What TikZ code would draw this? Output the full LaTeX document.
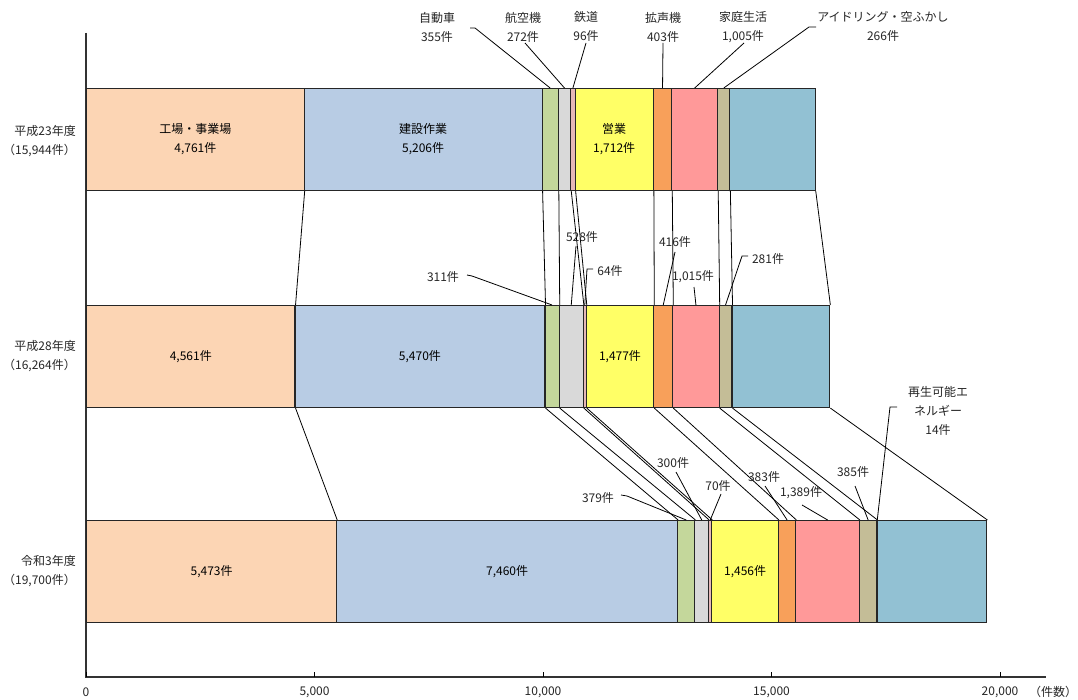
\documentclass[tikz,border=0pt]{standalone}
\usepackage{fontspec}
\setmainfont{Noto Sans CJK JP}
\definecolor{cpeach}{HTML}{FCD5B4}
\definecolor{cblue}{HTML}{B8CCE4}
\definecolor{cgreen}{HTML}{C4D79B}
\definecolor{cgray}{HTML}{D9D9D9}
\definecolor{crose}{HTML}{E6B8B7}
\definecolor{cyellow}{HTML}{FFFF66}
\definecolor{corange}{HTML}{F8A05A}
\definecolor{cpink}{HTML}{FF9999}
\definecolor{ckhaki}{HTML}{C4BD97}
\definecolor{cteal}{HTML}{92C1D3}
\definecolor{crenew}{HTML}{7FB89C}
\definecolor{cline}{HTML}{262626}
\tikzset{
  segbox/.style={draw=cline, line width=1.1pt, inner sep=0pt, minimum height=102pt, align=center, font=\fontsize{12}{19}\selectfont},
  conn/.style={draw=black, line width=0.8pt},
  lbl/.style={inner sep=0pt, align=center, font=\fontsize{12}{19}\selectfont, text=black!85},
  axisline/.style={draw=black!80, line width=1.5pt},
  ticklbl/.style={inner sep=0pt, font=\fontsize{12}{14}\selectfont, text=black!85},
}
\newcommand\mkseg[6]{%
  \edef\segw{\fpeval{(#3-#2)*0.0457}}%
  \edef\segx{\fpeval{86+#2*0.0457}}%
  \node[segbox, fill=#5, minimum width=\segw pt, anchor=north west] (#1) at (\segx,#4) {#6};}
\begin{document}
\begin{tikzpicture}[x=1pt,y=-1pt]
\useasboundingbox[fill=white] (0,0) rectangle (1078,700);
% axes
\coordinate (ytop) at (86,33);
\coordinate (orig) at (86,677);
\coordinate (xend) at (1046,677);
\draw[axisline] (ytop) -- (orig) -- (xend);
\foreach \k/\t in {0/0,1/{5,000},2/{10,000},3/{15,000},4/{20,000}}{
  \pgfmathsetmacro\tx{86+\k*228.5}
  \coordinate (tk\k) at (\tx,677);
  \draw[line width=1pt] (tk\k) -- ++(0,-5);
  \node[ticklbl] (tl\k) at (\tx,692) {\t};
}
\node[ticklbl] (unit) at (1053,692) {（件数）};
% year labels
\node[lbl, align=right, anchor=east] (y1) at (76,141) {平成23年度\\（15,944件）};
\node[lbl, align=right, anchor=east] (y2) at (76,356) {平成28年度\\（16,264件）};
\node[lbl, align=right, anchor=east] (y3) at (76,571) {令和3年度\\（19,700件）};
% bar 1
\mkseg{a1}{0}{4761}{88}{cpeach}{工場・事業場\\4,761件}
\mkseg{a2}{4761}{9967}{88}{cblue}{建設作業\\5,206件}
\mkseg{a3}{9967}{10322}{88}{cgreen}{}
\mkseg{a4}{10322}{10594}{88}{cgray}{}
\mkseg{a5}{10594}{10690}{88}{crose}{}
\mkseg{a6}{10690}{12402}{88}{cyellow}{営業\\1,712件}
\mkseg{a7}{12402}{12805}{88}{corange}{}
\mkseg{a8}{12805}{13810}{88}{cpink}{}
\mkseg{a9}{13810}{14076}{88}{ckhaki}{}
\mkseg{a10}{14076}{15944}{88}{cteal}{}
% bar 2
\mkseg{b1}{0}{4561}{305}{cpeach}{4,561件}
\mkseg{b2}{4561}{10031}{305}{cblue}{5,470件}
\mkseg{b3}{10031}{10342}{305}{cgreen}{}
\mkseg{b4}{10342}{10870}{305}{cgray}{}
\mkseg{b5}{10870}{10934}{305}{crose}{}
\mkseg{b6}{10934}{12411}{305}{cyellow}{1,477件}
\mkseg{b7}{12411}{12827}{305}{corange}{}
\mkseg{b8}{12827}{13842}{305}{cpink}{}
\mkseg{b9}{13842}{14123}{305}{ckhaki}{}
\mkseg{b10}{14123}{16264}{305}{cteal}{}
% bar 3
\mkseg{c1}{0}{5473}{520}{cpeach}{5,473件}
\mkseg{c2}{5473}{12933}{520}{cblue}{7,460件}
\mkseg{c3}{12933}{13312}{520}{cgreen}{}
\mkseg{c4}{13312}{13612}{520}{cgray}{}
\mkseg{c5}{13612}{13682}{520}{crose}{}
\mkseg{c6}{13682}{15138}{520}{cyellow}{1,456件}
\mkseg{c7}{15138}{15521}{520}{corange}{}
\mkseg{c8}{15521}{16910}{520}{cpink}{}
\mkseg{c9}{16910}{17295}{520}{ckhaki}{}
\mkseg{c10}{17295}{17309}{520}{crenew}{}
\mkseg{c11}{17309}{19700}{520}{cteal}{}
% connecting lines between bars
\foreach \i in {1,...,10}{\draw[conn] (a\i.south east) -- (b\i.north east);}
\foreach \i in {1,...,9}{\draw[conn] (b\i.south east) -- (c\i.north east);}
\draw[conn] (b10.south east) -- (c11.north east);
% top callouts (bar 1)
\node[lbl] (t3) at (437,27.5) {自動車\\355件};
\coordinate (t3a) at (470,28); \coordinate (t3b) at (475,28);
\draw[conn] (t3a) -- (t3b) -- (a3.north);
\node[lbl] (t4) at (523,27.5) {航空機\\272件};
\coordinate (t4a) at (525,43);
\draw[conn] (t4a) -- (a4.north);
\node[lbl] (t5) at (586,26) {鉄道\\96件};
\coordinate (t5a) at (586,43);
\draw[conn] (t5a) -- (a5.north);
\node[lbl] (t7) at (663,27) {拡声機\\403件};
\coordinate (t7a) at (663,43);
\draw[conn] (t7a) -- (a7.north);
\node[lbl] (t8) at (743,27.5) {家庭生活\\1,005件};
\coordinate (t8a) at (744,43);
\draw[conn] (t8a) -- (a8.north);
\node[lbl] (t9) at (883,26.5) {アイドリング・空ふかし\\266件};
\coordinate (t9a) at (816,27); \coordinate (t9b) at (809,27);
\draw[conn] (t9a) -- (t9b) -- (a9.north);
% bar 2 callouts
\node[lbl] (u3) at (443,277) {311件};
\coordinate (u3a) at (467,275); \coordinate (u3b) at (472,276);
\draw[conn] (u3a) -- (u3b) -- (b3.north);
\node[lbl] (u4) at (582,237) {528件};
\coordinate (u4a) at (576,246);
\draw[conn] (u4a) -- (b4.north);
\node[lbl] (u5) at (610,271) {64件};
\coordinate (u5a) at (593,269); \coordinate (u5b) at (587,269);
\draw[conn] (u5a) -- (u5b) -- (b5.north);
\node[lbl] (u7) at (675,242) {416件};
\coordinate (u7a) at (675,252);
\draw[conn] (u7a) -- (b7.north);
\node[lbl] (u8) at (693,277) {1,015件};
\coordinate (u8a) at (694,287);
\draw[conn] (u8a) -- (b8.north);
\node[lbl] (u9) at (768,259) {281件};
\coordinate (u9a) at (748,256); \coordinate (u9b) at (742,256);
\draw[conn] (u9a) -- (u9b) -- (b9.north);
% bar 3 callouts
\node[lbl] (v3) at (598,498) {379件};
\coordinate (v3a) at (621,495); \coordinate (v3b) at (627,496);
\draw[conn] (v3a) -- (v3b) -- (c3.north);
\node[lbl] (v4) at (673,463) {300件};
\coordinate (v4a) at (676,472);
\draw[conn] (v4a) -- (c4.north);
\node[lbl] (v5) at (718,486) {70件};
\coordinate (v5a) at (721,494);
\draw[conn] (v5a) -- (c5.north);
\node[lbl] (v7) at (764,477) {383件};
\coordinate (v7a) at (765,486);
\draw[conn] (v7a) -- (c7.north);
\node[lbl] (v8) at (801,493) {1,389件};
\coordinate (v8a) at (802,505);
\draw[conn] (v8a) -- (c8.north);
\node[lbl] (v9) at (853,472) {385件};
\coordinate (v9a) at (855,486);
\draw[conn] (v9a) -- (c9.north);
\node[lbl] (v10) at (938,411) {再生可能エ\\ネルギー\\14件};
\coordinate (v10a) at (897,407); \coordinate (v10b) at (890,407);
\draw[conn] (v10a) -- (v10b) -- (c10.north);
\end{tikzpicture}
\end{document}
